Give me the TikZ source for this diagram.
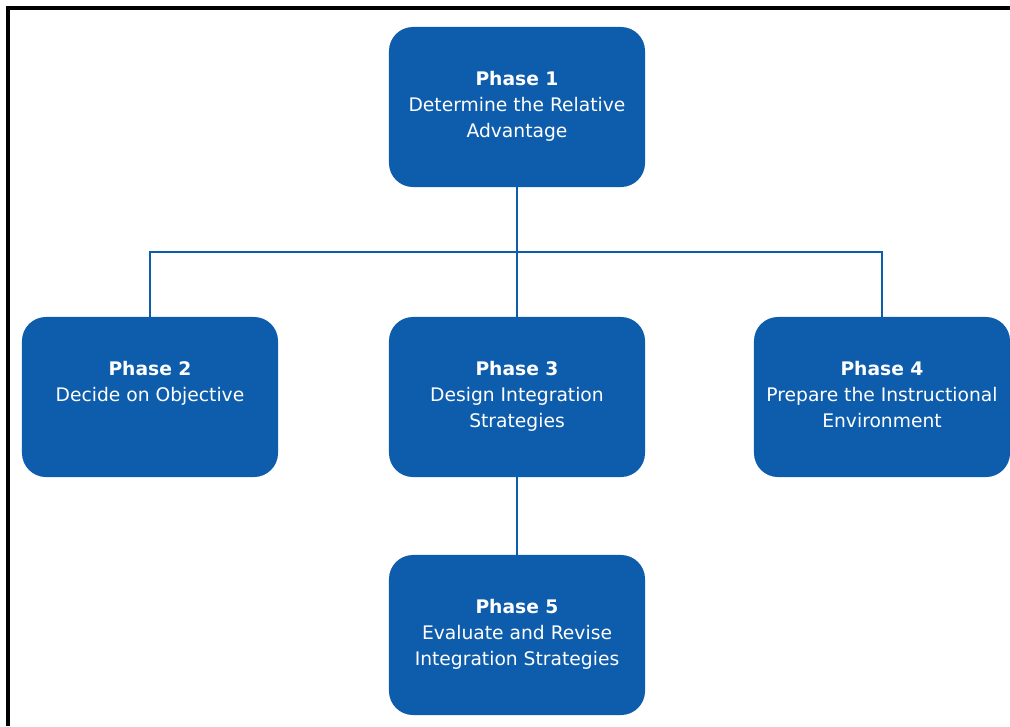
\documentclass[tikz,border=0pt]{standalone}
\usepackage{fontspec}
\setmainfont{DejaVu Sans}
\usetikzlibrary{positioning}

\definecolor{phaseblue}{RGB}{14,93,172}
\newcommand{\phasetext}[3]{\strut\textbf{#1}\\#2\\#3\rule[-0.23cm]{0pt}{0.23cm}}

\begin{document}
\begin{tikzpicture}[
		x=0.025cm, y=-0.025cm,
		phasebox/.style={rectangle, rounded corners=0.6cm, fill=phaseblue, text=white,
				minimum width=6.4cm, minimum height=4cm, inner sep=0pt, align=center,
				font=\fontsize{13.3pt}{18.5pt}\selectfont},
		link/.style={draw=phaseblue, line width=2pt}
	]

	\def \ytop {107}
	\def \ymid {397}
	\def \ybot {635}

	\useasboundingbox (0,0) rectangle (1010,726);
	\draw[line width=2.2pt] (8,726) -- (8,8) -- (1010,8);

	\node[phasebox] (phase-1) at (517,\ytop) {\phasetext{Phase 1}{Determine the Relative}{Advantage}};
	\node[phasebox] (phase-2) at (150,\ymid) {\phasetext{Phase 2}{Decide on Objective}{}};
	\node[phasebox] (phase-3) at (517,\ymid) {\phasetext{Phase 3}{Design Integration}{Strategies}};
	\node[phasebox] (phase-4) at (882,\ymid) {\phasetext{Phase 4}{Prepare the Instructional}{Environment}};
	\node[phasebox] (phase-5) at (517,\ybot) {\phasetext{Phase 5}{Evaluate and Revise}{Integration Strategies}};

	\coordinate (bus) at (517,252);

	\draw[link] (phase-1) -- (bus);
	\foreach \i in {2, 3, 4} {
			\draw[link] (bus) -| (phase-\i);
		}
	\draw[link] (phase-3) -- (phase-5);

\end{tikzpicture}
\end{document}
